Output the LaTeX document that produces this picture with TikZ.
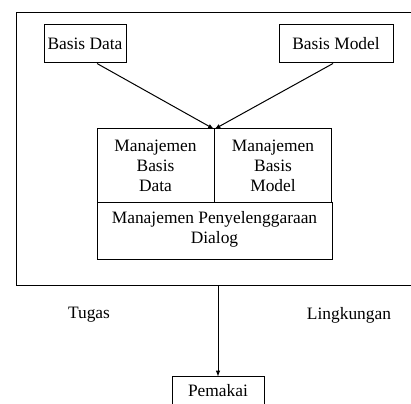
\documentclass[tikz,border=0pt]{standalone}
\usepackage{fontspec}
\setmainfont{Liberation Serif}
\usepackage{tikz}
\usetikzlibrary{arrows}

\begin{document}
\begin{tikzpicture}[x=1pt, y=-1pt, >=latex, font=\rmfamily]
    \tikzstyle{box} = [rectangle, draw=black, line width=1pt, inner sep=0pt, text centered]
    \tikzstyle{cell} = [box, minimum width=117pt, minimum height=73pt, align=center]
    \tikzstyle{link} = [->, line width=1pt, shorten >=-1pt]
    \fontsize{17.4}{20}\selectfont
    \useasboundingbox (0,0) rectangle (411,403);
    % outer frame
    \node (sistem) [box, minimum width=399pt, minimum height=272pt] at (215.5,149) {};
    \node (basisdata) [box, minimum width=82pt, minimum height=38pt] at (85,44) {Basis Data};
    \node (basismodel) [box, minimum width=114pt, minimum height=38pt] at (336,44) {Basis Model};
    % management block
    \node (mbd) [cell] at (155.5,165.5) {Manajemen\\Basis\\Data};
    \node (mbm) [cell] at (273,165.5) {Manajemen\\Basis\\Model};
    \node (dialog) [box, minimum width=235pt, minimum height=57pt, align=center] at (214.5,230.5) {};
    \node[anchor=north, align=center] at (214.5,205) {Manajemen Penyelenggaraan\\Dialog};
    \draw[link] ([xshift=12pt]basisdata.south) -- ([xshift=-1.5pt]mbd.north east);
    \draw[link] ([xshift=-3pt]basismodel.south) -- ([xshift=1.5pt]mbm.north west);
    % user
    \node (pemakai) [box, minimum width=92pt, minimum height=38pt] at (218,395) {};
    \node at (218,391) {Pemakai};
    \draw[link] (sistem.south -| pemakai.north) -- (pemakai.north);
    \node (tugas) at (89,315) {Tugas};
    \node (lingkungan) at (349,315) {Lingkungan};
\end{tikzpicture}
\end{document}
